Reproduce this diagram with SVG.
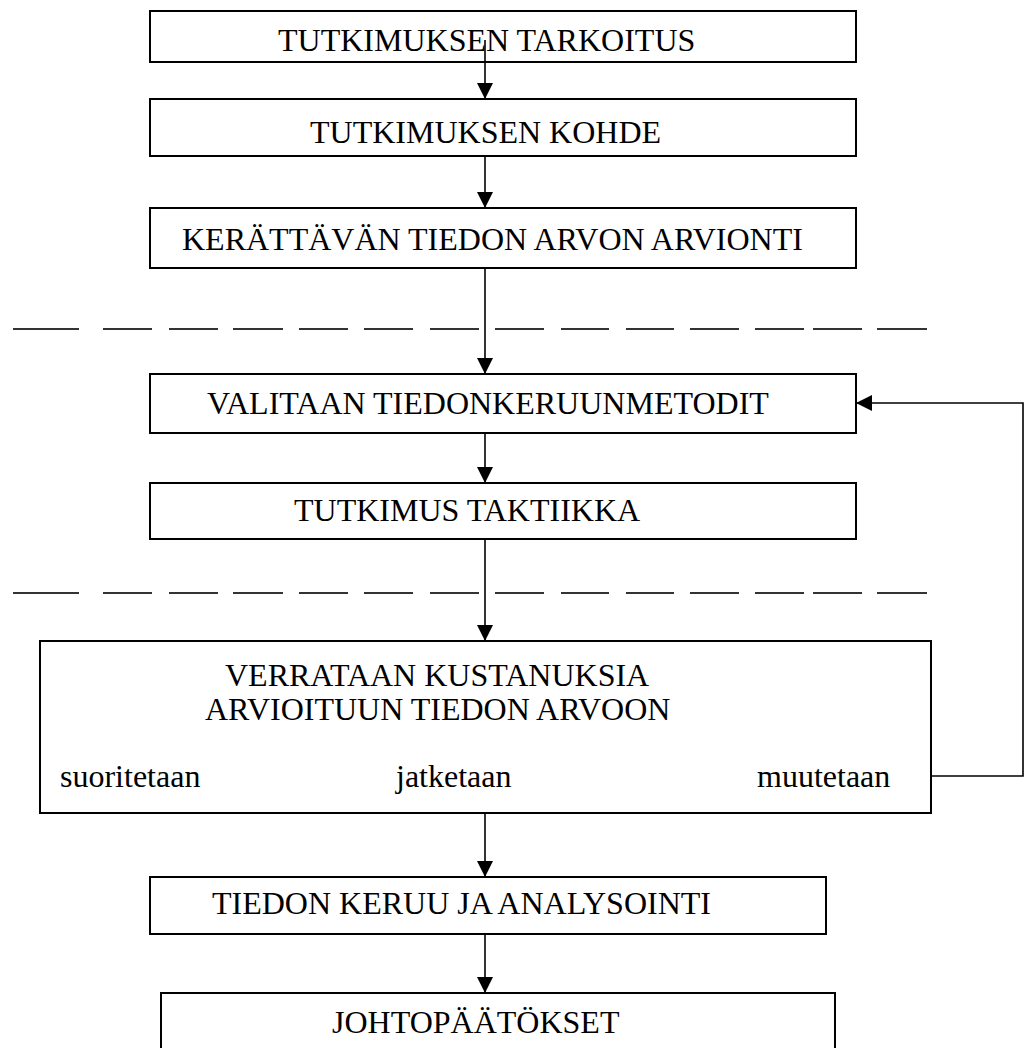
<svg xmlns="http://www.w3.org/2000/svg" width="1028" height="1048" viewBox="0 0 1028 1048">
<style>
.box{fill:#fff;stroke:#000;stroke-width:2}
.t{font-family:"Liberation Serif","Times New Roman",serif;font-size:32px;fill:#000}
.c{fill:none;stroke:#000;stroke-width:1.6}
.d{stroke:#333;stroke-width:2}
</style>
<defs>
<marker id="ah" markerUnits="userSpaceOnUse" markerWidth="16" markerHeight="16" viewBox="0 0 16 16" refX="16" refY="8" orient="auto">
<path d="M0,0 L16,8 L0,16 Z" fill="#000"/>
</marker>
</defs>
<rect width="1028" height="1048" fill="#fff"/>
<g id="n1"><rect class="box" x="150" y="11" width="706" height="51"/><text class="t" x="278" y="51">TUTKIMUKSEN TARKOITUS</text></g>
<g id="n2"><rect class="box" x="150" y="99" width="706" height="57"/><text class="t" x="310" y="143">TUTKIMUKSEN KOHDE</text></g>
<g id="n3"><rect class="box" x="150" y="208" width="706" height="60"/><text class="t" x="182" y="250">KERÄTTÄVÄN TIEDON ARVON ARVIONTI</text></g>
<g id="n4"><rect class="box" x="150" y="374" width="706" height="59"/><text class="t" x="207" y="414">VALITAAN TIEDONKERUUNMETODIT</text></g>
<g id="n5"><rect class="box" x="150" y="483" width="706" height="56"/><text class="t" x="294" y="521">TUTKIMUS TAKTIIKKA</text></g>
<g id="n6"><rect class="box" x="40" y="641" width="891" height="172"/>
<text class="t" x="225" y="686">VERRATAAN KUSTANUKSIA</text>
<text class="t" x="205" y="720">ARVIOITUUN TIEDON ARVOON</text>
<text class="t" x="60" y="787">suoritetaan</text>
<text class="t" x="396" y="787">jatketaan</text>
<text class="t" x="757" y="787">muutetaan</text></g>
<g id="n7"><rect class="box" x="150" y="877" width="676" height="57"/><text class="t" x="212" y="914">TIEDON KERUU JA ANALYSOINTI</text></g>
<g id="n8"><rect class="box" x="161" y="993" width="674" height="70"/><text class="t" x="332" y="1033">JOHTOPÄÄTÖKSET</text></g>
<g id="separators">
<path class="d" d="M13,329H79M103,329H152M169,329H218M233,329H283M299,329H348M364,329H413M430,329H479M495,329H544M561,329H609M626,329H674M690,329H739M755,329H804M813,329H862M877,329H927"/>
<path class="d" d="M13,593H79M103,593H152M169,593H218M233,593H283M299,593H348M364,593H413M430,593H479M495,593H544M561,593H609M626,593H674M690,593H739M755,593H804M813,593H862M877,593H927"/>
</g>
<g id="connectors">
<path class="c" d="M485,40V99" marker-end="url(#ah)"/>
<path class="c" d="M485,156V208" marker-end="url(#ah)"/>
<path class="c" d="M485,268V374" marker-end="url(#ah)"/>
<path class="c" d="M485,433V483" marker-end="url(#ah)"/>
<path class="c" d="M485,539V641" marker-end="url(#ah)"/>
<path class="c" d="M485,813V877" marker-end="url(#ah)"/>
<path class="c" d="M485,934V993" marker-end="url(#ah)"/>
<path class="c" d="M931,776H1023V403H856" marker-end="url(#ah)"/>
</g>
</svg>
